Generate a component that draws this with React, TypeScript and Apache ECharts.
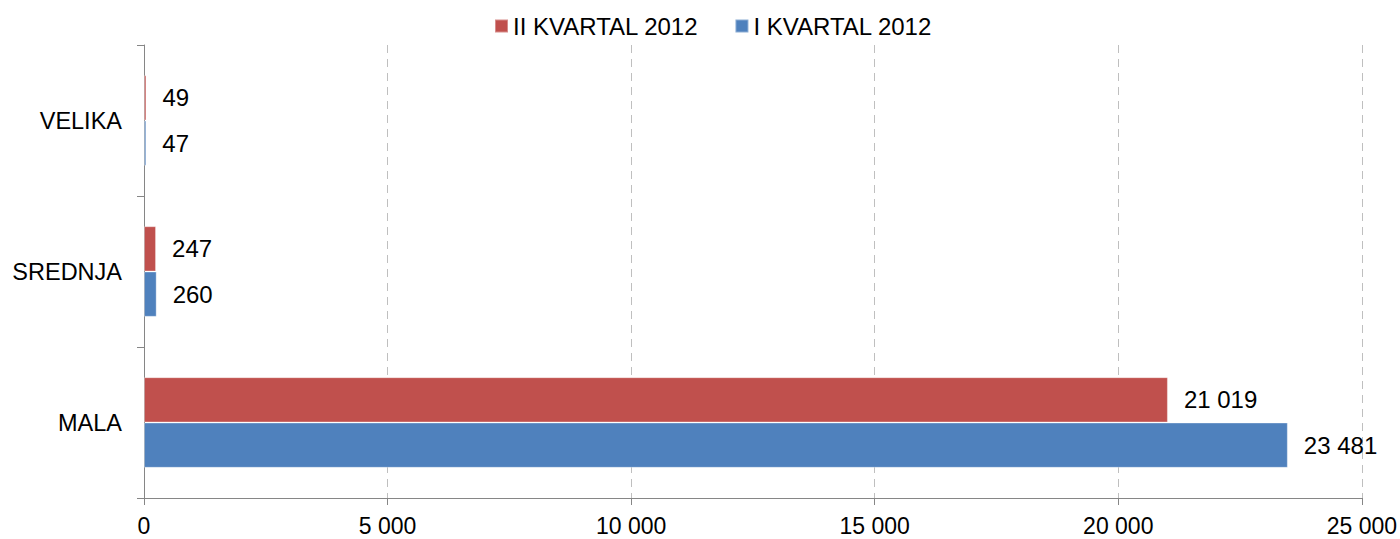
import React, { useEffect, useRef } from "react";
import * as echarts from "echarts";

const categories = ["MALA", "SREDNJA", "VELIKA"];
const seriesNames = ["II KVARTAL 2012", "I KVARTAL 2012"];
const q2Values = [21019, 247, 49];
const q1Values = [23481, 260, 47];
const colors = ["#C0504D", "#4F81BD"];

const fmt = (v: number) => {
  const s = Math.round(v).toString();
  return s.replace(/\B(?=(\d{3})+(?!\d))/g, " ");
};

const FONT = "'Liberation Sans', Arial, sans-serif";

export default function App() {
  const ref = useRef<HTMLDivElement>(null);
  useEffect(() => {
    document.body.style.margin = "0";
    const chart = echarts.init(ref.current!, undefined, { renderer: "svg" });
    const labelStyle = {
      show: true,
      position: "right" as const,
      distance: 16,
      color: "#000",
      fontSize: 24,
      fontFamily: FONT,
      formatter: (p: any) => fmt(p.value),
    };
    chart.setOption({
      animation: false,
      textStyle: { fontFamily: FONT },
      legend: {
        data: seriesNames,
        left: 494,
        top: 14,
        padding: 0,
        itemWidth: 13,
        itemHeight: 13,
        itemGap: 36,
        icon: "rect",
        textStyle: { fontSize: 24, color: "#000", fontFamily: FONT },
      },
      grid: { left: 144, right: 38, top: 45, bottom: 41, containLabel: false },
      xAxis: {
        type: "value",
        min: 0,
        max: 25000,
        interval: 5000,
        axisLine: { show: true, lineStyle: { color: "#868686", width: 1 } },
        axisTick: { show: true, length: 7, lineStyle: { color: "#868686" } },
        axisLabel: {
          color: "#000",
          fontSize: 23,
          fontFamily: FONT,
          margin: 16,
          formatter: (v: number) => fmt(v),
        },
        splitLine: { show: true, lineStyle: { color: "#BFBFBF", type: [8, 6], width: 1 } },
      },
      yAxis: {
        type: "category",
        data: categories,
        axisLine: { show: true, lineStyle: { color: "#868686", width: 1 } },
        axisTick: { show: true, length: 7, lineStyle: { color: "#868686" } },
        axisLabel: { color: "#000", fontSize: 23.5, fontFamily: FONT, margin: 22 },
        splitLine: { show: false },
      },
      series: [
        {
          name: seriesNames[0],
          type: "bar",
          data: q2Values,
          barGap: "0%",
          barCategoryGap: "40%",
          itemStyle: { color: colors[0], borderColor: "rgba(255,255,255,0.35)", borderWidth: 1 },
          label: labelStyle,
        },
        {
          name: seriesNames[1],
          type: "bar",
          data: q1Values,
          barGap: "0%",
          barCategoryGap: "40%",
          itemStyle: { color: colors[1], borderColor: "rgba(255,255,255,0.35)", borderWidth: 1 },
          label: labelStyle,
        },
      ],
    });
    return () => chart.dispose();
  }, []);
  return <div ref={ref} style={{ width: 1400, height: 539 }} />;
}
